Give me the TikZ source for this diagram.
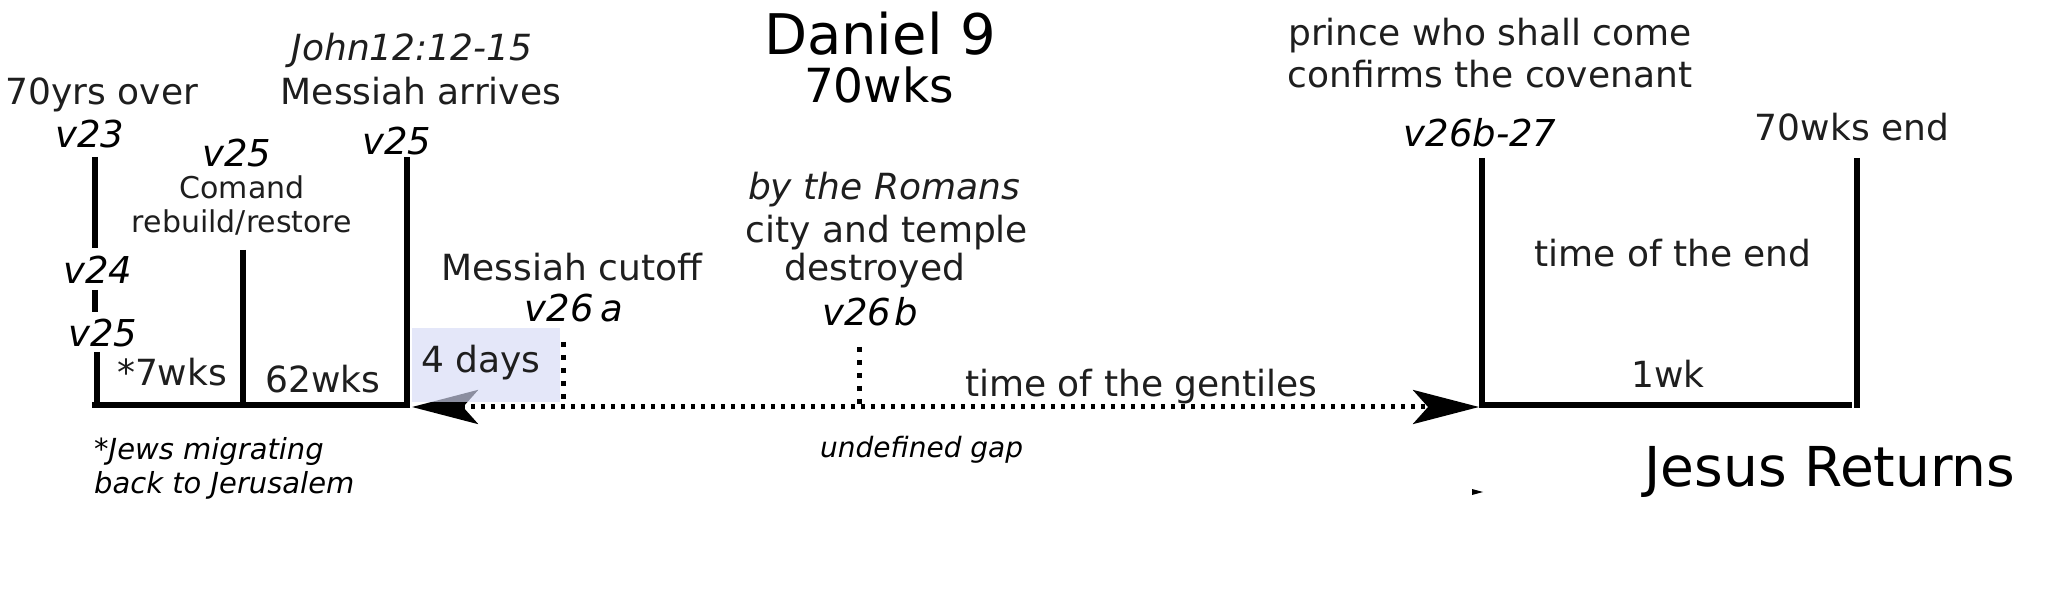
\documentclass[tikz,border=0pt]{standalone}
\usepackage{fontspec}
\setmainfont{DejaVu Sans}
\usetikzlibrary{arrows.meta}
\definecolor{txt}{RGB}{30,30,30}
\definecolor{boxfill}{RGB}{214,219,247}
\begin{document}
\begin{tikzpicture}[x=1pt,y=-1pt,
  lbl/.style={anchor=base, inner sep=0pt, text=txt, font=\fontsize{36}{40}\selectfont},
  sml/.style={anchor=base, inner sep=0pt, text=txt, font=\fontsize{30}{34}\selectfont},
  ital/.style={anchor=base, inner sep=0pt, text=txt, font=\fontsize{36}{40}\selectfont\itshape},
  vlbl/.style={anchor=base, inner sep=0pt, text=black, font=\fontsize{37}{40}\selectfont\itshape},
  note/.style={anchor=base west, inner sep=0pt, text=black, font=\fontsize{29}{33}\selectfont\itshape},
  bar/.style={line width=6pt, draw=black},
  dotv/.style={line width=5pt, draw=black, dash pattern=on 5pt off 8pt},
  gaparrow/.style={line width=5pt, draw=black, dash pattern=on 4pt off 6pt,
    {Stealth[length=66pt,width=34pt,inset=15pt]}-{Stealth[length=66pt,width=34pt,inset=15pt]}},
]
\fill[white] (0,0) rectangle (2048,601);
\useasboundingbox (0,0) rectangle (2048,601);

% coordinates of the left structure
\coordinate (a1) at (95,157);  \coordinate (a2) at (95,248);
\coordinate (b1) at (95,290);  \coordinate (b2) at (95,312);
\coordinate (c1) at (97,352);  \coordinate (c2) at (97,408);
\coordinate (baseL) at (92,405); \coordinate (baseR) at (410,405);
\coordinate (m1) at (243,250); \coordinate (m2) at (243,405);
\coordinate (r1) at (407,157); \coordinate (r2) at (407,408);
% right structure
\coordinate (p1) at (1482,158); \coordinate (p2) at (1482,405);
\coordinate (p3) at (1852,405);
\coordinate (q1) at (1857,158); \coordinate (q2) at (1857,408);
% gap arrow
\coordinate (gapL) at (412,407); \coordinate (gapR) at (1479,407);
% dotted markers
\coordinate (d1) at (563,342); \coordinate (d2) at (563,402);
\coordinate (e1) at (859,347); \coordinate (e2) at (859,404);

\draw[bar] (a1) -- (a2);
\draw[bar] (b1) -- (b2);
\draw[bar] (c1) -- (c2);
\draw[bar] (baseL) -- (baseR);
\draw[bar] (m1) -- (m2);
\draw[bar] (r1) -- (r2);
\draw[bar] (p1) -- (p2) -- (p3);
\draw[bar] (q1) -- (q2);

\draw[gaparrow] (gapL) -- (gapR);
\draw[dotv] (d1) -- (d2);
\draw[dotv] (e1) -- (e2);

% translucent 4 days box
\fill[boxfill, fill opacity=0.65] (412,328) rectangle (560,402);

% small mark
\fill (1472,489) -- (1483,492) -- (1472,495) -- cycle;

% title
\node[anchor=base, inner sep=0pt, font=\fontsize{56}{60}\selectfont] (title) at (880,55) {Daniel 9};
\node[anchor=base, inner sep=0pt, font=\fontsize{47}{50}\selectfont] (title2) at (879,103) {70wks};

% left labels
\node[lbl] (yrs) at (102,105) {70yrs over};
\node[vlbl] (v23) at (90,148) {v23};
\node[vlbl] (v24) at (98,284) {v24};
\node[vlbl] (v25c) at (103,347) {v25};
\node[vlbl] (v25a) at (237,167) {v25};
\node[sml] (comand) at (242,199) {Comand};
\node[sml] (rebuild) at (242,233) {rebuild/restore};
\node[vlbl] (v25b) at (397,155) {v25};
\node[ital] (john) at (412,61) {John12:12-15};
\node[lbl] (arrives) at (421,105) {Messiah arrives};
\node[lbl] (w7) at (172,386) {*7wks};
\node[lbl] (w62) at (323,393) {62wks};
\node[note] (jews1) at (94,459) {*Jews migrating};
\node[note] (jews2) at (94,493) {back to Jerusalem};
\node[lbl] (days) at (481,373) {4 days};

% middle labels
\node[lbl] (cutoff) at (572,281) {Messiah cutoff};
\node[vlbl] (v26a) at (574,322) {v26\kern7pt a};
\node[ital] (romans) at (884,200) {by the Romans};
\node[lbl] (city) at (887,243) {city and temple};
\node[lbl] (destroyed) at (875,281) {destroyed};
\node[vlbl] (v26b) at (870,326) {v26\kern3pt b};
\node[lbl, anchor=base west] (gentiles) at (965,396) {time of the gentiles};
\node[anchor=base west, inner sep=0pt, text=black, font=\fontsize{28}{32}\selectfont\itshape] (gap) at (820,457) {undefined gap};

% right labels
\node[lbl] (prince) at (1490,46) {prince who shall come};
\node[lbl] (confirms) at (1490,88) {confirms the covenant};
\node[vlbl] (v2627) at (1480,147) {v26b-27};
\node[lbl] (end70) at (1852,141) {70wks end};
\node[lbl] (timeend) at (1673,267) {time of the end};
\node[lbl] (wk1) at (1668,388) {1wk};
\node[anchor=base, inner sep=0pt, font=\fontsize{55}{58}\selectfont] (jesus) at (1830,486) {Jesus Returns};
\end{tikzpicture}
\end{document}
